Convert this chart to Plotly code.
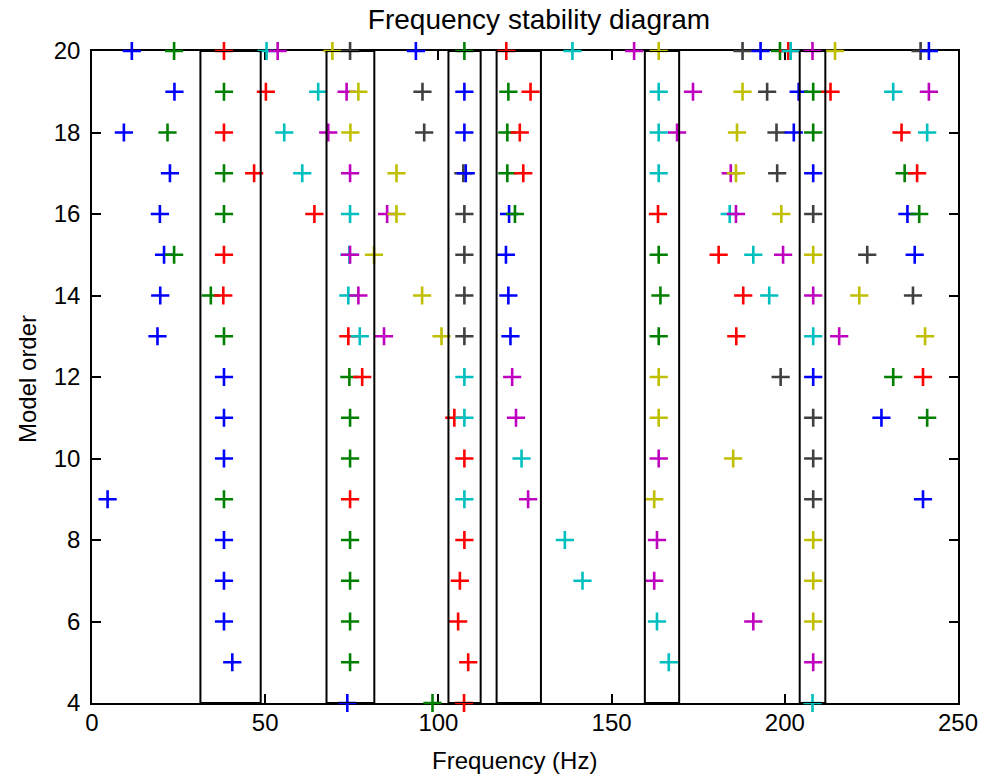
import plotly.graph_objects as go

# Model orders shown on the y axis
model_orders = [4, 5, 6, 7, 8, 9, 10, 11, 12, 13, 14, 15, 16, 17, 18, 19, 20]

# Identified frequencies (Hz) per model order, sorted ascending
order_4 = [73.7, 98.3, 107.4, 208.0]
order_5 = [40.5, 74.5, 108.6, 166.5, 208.2]
order_6 = [38.1, 74.5, 105.7, 163.1, 190.9, 208.2]
order_7 = [38.1, 74.5, 106.2, 141.6, 162.3, 208.2]
order_8 = [38.1, 74.5, 107.5, 136.5, 163.1, 208.2]
order_9 = [4.5, 38.1, 74.5, 107.5, 125.9, 162.3, 208.2, 239.9]
order_10 = [38.1, 74.5, 107.5, 124.0, 163.6, 185.1, 208.2]
order_11 = [38.1, 74.5, 104.6, 107.5, 122.4, 163.6, 208.2, 227.9, 241.1]
order_12 = [38.1, 74.3, 78.0, 107.5, 121.3, 163.6, 198.8, 208.2, 231.3, 239.9]
order_13 = [18.9, 38.1, 74.0, 77.3, 84.3, 100.9, 107.5, 120.8, 163.6, 186.0,
            208.2, 215.7, 240.5]
order_14 = [19.7, 34.3, 37.9, 74.0, 76.9, 95.3, 107.5, 120.2, 164.1, 188.0,
            195.5, 208.2, 221.5, 237.0]
order_15 = [20.8, 23.7, 38.1, 74.3, 74.5, 81.4, 107.5, 119.5, 163.6, 180.9,
            190.9, 199.5, 208.2, 223.8, 237.5]
order_16 = [19.6, 38.1, 64.2, 74.5, 85.2, 87.9, 107.5, 120.4, 122.1, 163.4,
            184.1, 185.9, 199.0, 208.2, 235.4, 238.8]
order_17 = [22.5, 38.1, 46.8, 60.7, 74.5, 87.9, 107.2, 107.9, 119.9, 124.5,
            163.6, 184.4, 185.9, 197.8, 208.2, 234.6, 238.2]
order_18 = [9.2, 21.8, 38.1, 55.5, 68.2, 74.6, 95.9, 107.5, 119.9, 123.5,
            163.6, 168.9, 186.2, 197.6, 202.6, 208.2, 233.7, 241.1]
order_19 = [23.8, 38.1, 50.2, 65.3, 73.5, 76.9, 95.4, 107.5, 120.2, 126.6,
            163.6, 173.5, 187.8, 194.9, 204.0, 208.2, 213.2, 231.3, 241.6]
order_20 = [11.5, 23.7, 38.1, 50.4, 53.6, 69.4, 74.5, 93.5, 107.5, 119.6,
            138.7, 156.5, 163.6, 187.8, 193.0, 198.6, 201.0, 201.7, 208.0,
            214.5, 239.2, 241.6]

freqs_by_order = [order_4, order_5, order_6, order_7, order_8, order_9, order_10,
                  order_11, order_12, order_13, order_14, order_15, order_16,
                  order_17, order_18, order_19, order_20]

# Stable-mode bands (Hz)
band_left = [31.3, 67.7, 102.9, 116.8, 159.6, 204.3]
band_right = [48.7, 81.5, 112.2, 129.6, 169.5, 211.7]
band_bottom = 4
band_top = 20

x_ticks = [0, 50, 100, 150, 200, 250]
y_ticks = [4, 6, 8, 10, 12, 14, 16, 18, 20]

# MATLAB default colour cycle (b, g, r, c, m, y, k)
color_cycle = ["#0000FF", "#008000", "#FF0000", "#00BFBF", "#BF00BF", "#BFBF00", "#404040"]

FONT = "Liberation Sans, Arial, sans-serif"

W, H = 984, 776

fig = go.Figure()
for order, freqs in zip(model_orders, freqs_by_order):
    colors = [color_cycle[i % len(color_cycle)] for i in range(len(freqs))]
    fig.add_trace(go.Scatter(
        x=freqs, y=[order] * len(freqs), mode="markers",
        marker=dict(symbol="cross-thin", size=13, color=colors,
                    line=dict(width=2.6, color=colors)),
        cliponaxis=False, showlegend=False, hoverinfo="x+y"))

for x0, x1 in zip(band_left, band_right):
    fig.add_shape(type="rect", xref="x", yref="y", x0=x0, x1=x1,
                  y0=band_bottom, y1=band_top,
                  line=dict(color="black", width=2), fillcolor="rgba(0,0,0,0)")

axis_common = dict(showgrid=False, zeroline=False, showline=True, linecolor="black",
                   linewidth=1.5, ticks="inside", ticklen=9, tickwidth=1.5,
                   tickcolor="black", mirror="ticks", layer="below traces",
                   tickfont=dict(family=FONT, size=24, color="black"))

fig.update_xaxes(range=[0, 250], tickvals=x_ticks, ticktext=[str(v) for v in x_ticks],
                 ticklabelstandoff=-3, **axis_common)
fig.update_yaxes(range=[4, 20], tickvals=y_ticks, ticktext=[str(v) for v in y_ticks],
                 ticklabelstandoff=5, **axis_common)

fig.update_layout(
    width=W, height=H,
    margin=dict(l=92, r=26, t=51, b=73, autoexpand=False),
    plot_bgcolor="white", paper_bgcolor="white",
    title=dict(text="Frequency stability diagram", x=539 / W, xref="container",
               xanchor="center", y=1 - 19 / H, yref="container", yanchor="middle",
               font=dict(family=FONT, size=28, color="black")),
    annotations=[
        dict(text="Frequency (Hz)", xref="paper", yref="paper",
             x=(514 - 92) / 866, y=(703 - 760) / 652, xanchor="center", yanchor="middle",
             showarrow=False, font=dict(family=FONT, size=24, color="black")),
        dict(text="Model order", xref="paper", yref="paper",
             x=(27 - 92) / 866, y=(703 - 379) / 652, xanchor="center", yanchor="middle",
             textangle=-90, showarrow=False,
             font=dict(family=FONT, size=24, color="black")),
    ],
)

fig.write_html("out.html",
               config={"displayModeBar": False},
               post_script="document.body.style.margin='0';document.body.style.overflow='hidden';")
